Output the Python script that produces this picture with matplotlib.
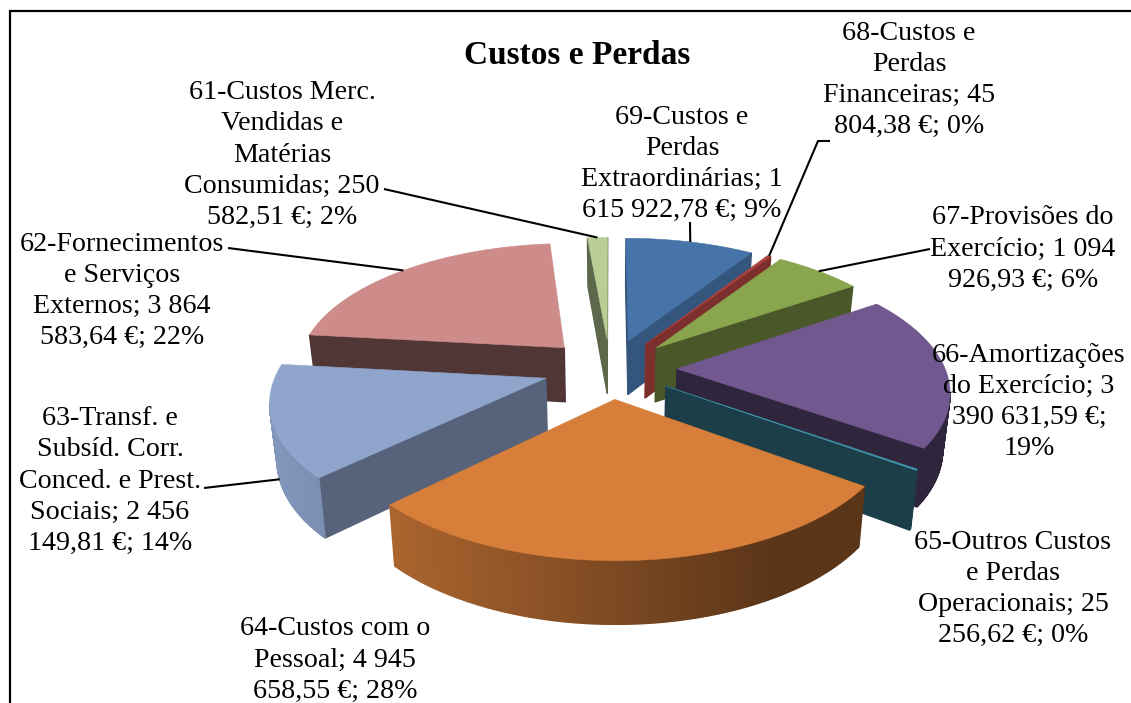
import numpy as np
import matplotlib
matplotlib.use("Agg")
import matplotlib.pyplot as plt
from matplotlib.patches import Polygon

# ---- data ----
accounts = ["69", "68", "67", "66", "65", "64", "63", "62", "61"]
values = [1615922.78, 45804.38, 1094926.93, 3390631.59, 25256.62,
          4945658.55, 2456149.81, 3864583.64, 250582.51]
label_texts = [
    "69-Custos e\nPerdas\nExtraordinárias; 1\n615 922,78 €; 9%",
    "68-Custos e\nPerdas\nFinanceiras; 45\n804,38 €; 0%",
    "67-Provisões do\nExercício; 1 094\n926,93 €; 6%",
    "66-Amortizações\ndo Exercício; 3\n390 631,59 €;\n19%",
    "65-Outros Custos\ne Perdas\nOperacionais; 25\n256,62 €; 0%",
    "64-Custos com o\nPessoal; 4 945\n658,55 €; 28%",
    "63-Transf. e\nSubsíd. Corr.\nConced. e Prest.\nSociais; 2 456\n149,81 €; 14%",
    "62-Fornecimentos\ne Serviços\nExternos; 3 864\n583,64 €; 22%",
    "61-Custos Merc.\nVendidas e\nMatérias\nConsumidas; 250\n582,51 €; 2%",
]
title = "Custos e Perdas"

# ---- style ----
top_colors = ["#4674A8", "#AA413C", "#89A54E", "#71588F", "#4198AF",
              "#D67E3A", "#8FA5CC", "#CD8C8A", "#B9CD96"]
cut_shade = [0.74, 0.73, 0.53, 0.42, 0.41, 0.6, 0.6, 0.39, 0.5]
label_xy = [(682, 164), (909, 80), (1023, 249), (1029, 402), (1013, 589),
            (335, 660), (110, 481), (122, 291), (282, 155)]
leader_from = [[(690, 222)], [(830, 141), (818, 141)], [(930, 249)], None, None,
               None, [(204, 488)], [(228, 248)], [(384, 189)]]
leader_on_wall = [False, False, False, False, False, False, True, False, False]

CX, CY = 610, 368.5
EXPLODE_X, EXPLODE_Y = 0.25, 0.237
F, G, K = 268, 126, 0.153
DEPTH = 55
BOTTOM_SCALE = 0.978


def project(X, Y):
    den = 1 + K * Y
    return CX + F * X / den, CY - G * Y / den, den


def bottom(u, v, den):
    return CX + (u - CX) * BOTTOM_SCALE, v + DEPTH / den ** 0.7


def scaled(hex_color, s):
    return tuple(min(1, c * s) for c in matplotlib.colors.to_rgb(hex_color))


def outer_shade(x):
    return float(np.clip(0.8 - (x - 388) * 0.4 / 412, 0.42, 0.95))


fig = plt.figure(figsize=(11.31, 7.03), dpi=100)
ax = fig.add_axes([0, 0, 1, 1])
ax.set_xlim(0, 1131)
ax.set_ylim(703, 0)
ax.axis("off")

fractions = np.array(values) / np.sum(values)
edges = np.concatenate([[0], np.cumsum(fractions)]) * 2 * np.pi
mids = (edges[:-1] + edges[1:]) / 2
anchors = {}

for i in sorted(range(len(values)), key=lambda k: -np.cos(mids[k])):
    a0, a1, m = edges[i], edges[i + 1], mids[i]
    ex, ey = EXPLODE_X * np.sin(m), EXPLODE_Y * np.cos(m)
    th = np.linspace(a0, a1, max(3, 2 * int(np.degrees(a1 - a0)) + 2))
    apex = project(ex, ey)
    arc = [project(ex + np.sin(t), ey + np.cos(t)) for t in th]
    mid_pt = project(ex + np.sin(m), ey + np.cos(m))
    anchors[i] = bottom(*mid_pt) if leader_on_wall[i] else mid_pt[:2]
    chain = [apex] + arc + [apex]
    color = top_colors[i]
    for j in range(len(chain) - 1):
        p, q = chain[j], chain[j + 1]
        if q[0] >= p[0]:
            continue  # wall faces away from the viewer
        quad = [p[:2], q[:2], bottom(*q), bottom(*p)]
        is_cut = j == 0 or j == len(chain) - 2
        shade = cut_shade[i] if is_cut else outer_shade((p[0] + q[0]) / 2)
        c = scaled(color, shade)
        ax.add_patch(Polygon(quad, closed=True, facecolor=c, edgecolor=c,
                             linewidth=1.0, zorder=2))
    ax.add_patch(Polygon([c[:2] for c in chain[:-1]], closed=True, facecolor=color,
                         edgecolor=color, linewidth=0.4, zorder=2))

# leader lines
for i, start in enumerate(leader_from):
    if start is None:
        continue
    xs = [p[0] for p in start] + [anchors[i][0]]
    ys = [p[1] for p in start] + [anchors[i][1]]
    ax.plot(xs, ys, color="black", lw=1.5, zorder=3, solid_capstyle="butt")

font = ["Liberation Serif", "DejaVu Serif"]
for t, (x, y) in zip(label_texts, label_xy):
    ax.text(x, y, t, ha="center", va="center", multialignment="center",
            family=font, fontsize=20.2, linespacing=1.33, color="black", zorder=4)
ax.text(577, 55, title, ha="center", va="center", family=font, fontsize=24,
        fontweight="bold", color="black", zorder=4)

# frame of the pasted picture
ax.plot([10, 10, 1131], [703, 11, 11], color="black", lw=1.6, zorder=1,
        solid_joinstyle="miter")

fig.savefig("out.png", dpi=100, facecolor="white")
